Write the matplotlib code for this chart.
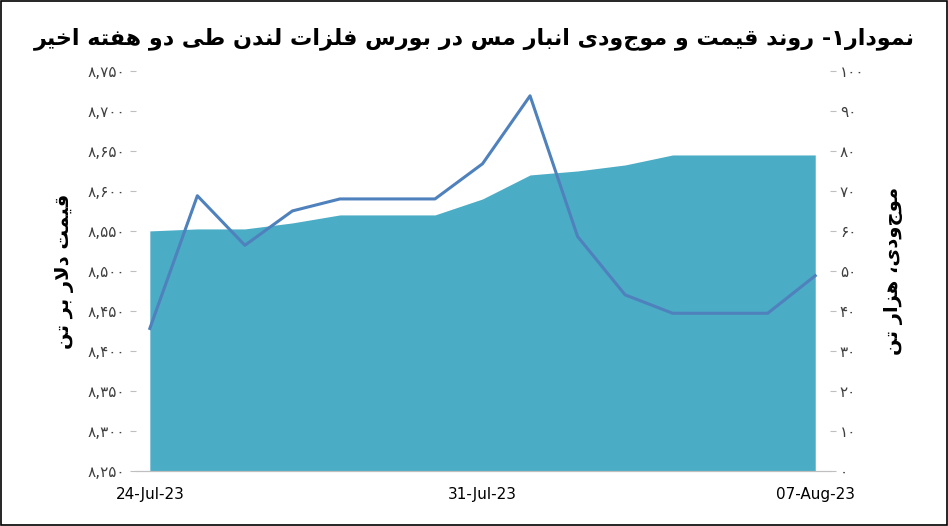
import matplotlib
matplotlib.use("Agg")
import matplotlib.pyplot as plt

dates = ["24-Jul-23","25-Jul-23","26-Jul-23","27-Jul-23","28-Jul-23","29-Jul-23","30-Jul-23",
         "31-Jul-23","01-Aug-23","02-Aug-23","03-Aug-23","04-Aug-23","05-Aug-23","06-Aug-23","07-Aug-23"]
price = [8428,8594,8532,8575,8590,8590,8590,8634,8719,8543,8470,8447,8447,8447,8494]
stock = [60,60.5,60.5,62,64,64,64,68,74,75,76.5,79,79,79,79]
xtick_idx = [0,7,14]

FORMS = {
 'ا':(0xFE8D,0xFE8E,None,None),'ب':(0xFE8F,0xFE90,0xFE91,0xFE92),'ت':(0xFE95,0xFE96,0xFE97,0xFE98),
 'خ':(0xFEA5,0xFEA6,0xFEA7,0xFEA8),'د':(0xFEA9,0xFEAA,None,None),'ر':(0xFEAD,0xFEAE,None,None),
 'ز':(0xFEAF,0xFEB0,None,None),'س':(0xFEB1,0xFEB2,0xFEB3,0xFEB4),'ط':(0xFEC1,0xFEC2,0xFEC3,0xFEC4),
 'ف':(0xFED1,0xFED2,0xFED3,0xFED4),'ق':(0xFED5,0xFED6,0xFED7,0xFED8),'ل':(0xFEDD,0xFEDE,0xFEDF,0xFEE0),
 'م':(0xFEE1,0xFEE2,0xFEE3,0xFEE4),'ن':(0xFEE5,0xFEE6,0xFEE7,0xFEE8),'ه':(0xFEE9,0xFEEA,0xFEEB,0xFEEC),
 'و':(0xFEED,0xFEEE,None,None),'ی':(0xFBFC,0xFBFD,0xFBFE,0xFBFF),
}
def shape(s):
    s = s.replace('لا', '\uE000')
    chars = list(s)
    def joins_next(c):  # c can connect to following letter
        return c in FORMS and FORMS[c][2] is not None
    out = []
    for i, c in enumerate(chars):
        prev = chars[i-1] if i > 0 else None
        nxt = chars[i+1] if i+1 < len(chars) else None
        pj = prev is not None and joins_next(prev)
        if c == '\uE000':
            out.append(chr(0xFEFC) if pj else chr(0xFEFB)); continue
        if c not in FORMS:
            out.append(c); continue
        iso, fin, ini, med = FORMS[c]
        nj = ini is not None and nxt is not None and (nxt in FORMS or nxt == '\uE000')
        if pj and nj: out.append(chr(med))
        elif pj: out.append(chr(fin))
        elif nj: out.append(chr(ini))
        else: out.append(chr(iso))
    # reverse for RTL, keep digit runs in order
    res, run = [], ''
    for ch in out:
        if ch.isdigit():
            run += ch
        else:
            if run: res.append(run); run = ''
            res.append(ch)
    if run: res.append(run)
    return ''.join(reversed(res))

fa = str.maketrans('0123456789', '۰۱۲۳۴۵۶۷۸۹')
title = "نمودار۱- روند قیمت و موجودی انبار مس در بورس فلزات لندن طی دو هفته اخیر"

plt.rcParams['font.family'] = ['DejaVu Sans']
fig = plt.figure(figsize=(9.48, 5.26), dpi=100)
ax = fig.add_axes([0.143, 0.105, 0.732, 0.76])
ax2 = ax.twinx()
x = list(range(len(dates)))
ax2.fill_between(x, 0, stock, color='#4BACC6', lw=0)
ax2.set_ylim(0, 100)
ax.set_ylim(8250, 8750)
ax.plot(x, price, color='#4F81BD', lw=2.2, zorder=5)
ax.set_zorder(ax2.get_zorder() + 1)
ax.patch.set_visible(False)
ax.set_xlim(-0.3, 14.3)
ax.set_xticks(xtick_idx)
ax.set_xticklabels([dates[i] for i in xtick_idx], fontsize=11)
ax.set_yticks(range(8250, 8751, 50))
ax.set_yticklabels([f"{v:,}".translate(fa) for v in range(8250, 8751, 50)], fontsize=11, color='#404040')
ax2.set_yticks(range(0, 101, 10))
ax2.set_yticklabels([str(v).translate(fa) for v in range(0, 101, 10)], fontsize=11, color='#404040')
for a in (ax, ax2):
    for s in ('top', 'left', 'right'):
        a.spines[s].set_visible(False)
    a.spines['bottom'].set_color('#BFBFBF')
    a.tick_params(axis='y', length=4, color='#BFBFBF')
    a.tick_params(axis='x', length=0, pad=12)
ax.set_ylabel(shape("قیمت دلار بر تن"), fontsize=14, fontweight='bold', labelpad=10)
ax2.set_ylabel(shape("موجودی، هزار تن"), fontsize=14, fontweight='bold', rotation=90, labelpad=14)
fig.text(0.5, 0.915, shape(title), ha='center', fontsize=16, fontweight='bold')
fig.patches.append(plt.Rectangle((0.001, 0.002), 0.998, 0.996, transform=fig.transFigure,
                                 fill=False, ec='black', lw=1.2))
fig.savefig('out.png', dpi=100)
